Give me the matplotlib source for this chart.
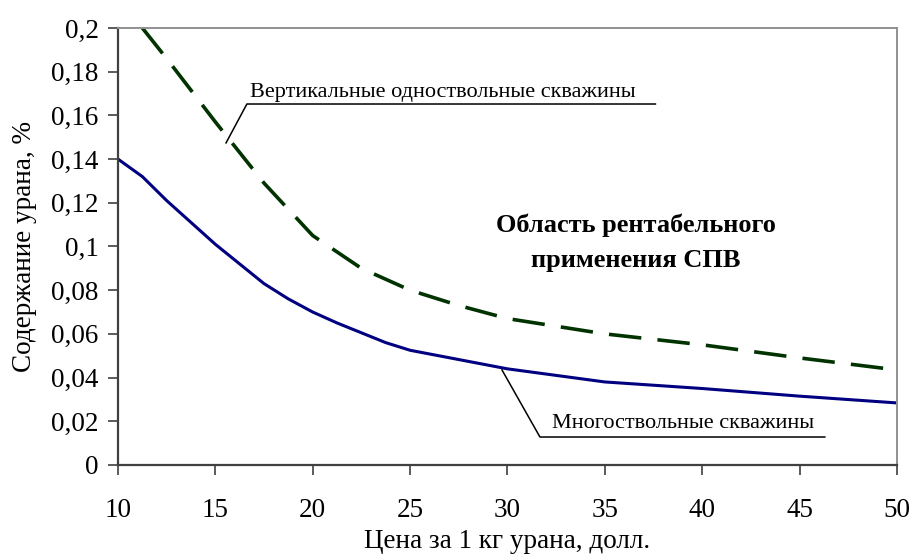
import matplotlib.pyplot as plt
from matplotlib.ticker import FuncFormatter

plt.rcParams["font.family"] = ["Liberation Serif", "DejaVu Serif"]

# данные
price_multi = [10, 11.25, 12.5, 15, 17.5, 18.75, 20, 21.25, 23.75, 25, 30, 35, 40, 45, 50]
grade_multi = [0.14, 0.132, 0.121, 0.101, 0.083, 0.076, 0.070, 0.065, 0.056, 0.0525,
               0.044, 0.038, 0.035, 0.0315, 0.0284]

price_vert = [11.25, 12.5, 15, 17.5, 20, 22.5, 25, 27.5, 30, 35, 40, 45, 50]
grade_vert = [0.2, 0.186, 0.157, 0.129, 0.105, 0.090, 0.080, 0.073, 0.067,
              0.060, 0.055, 0.049, 0.0435]

x_ticks = [10, 15, 20, 25, 30, 35, 40, 45, 50]
y_ticks = [0, 0.02, 0.04, 0.06, 0.08, 0.1, 0.12, 0.14, 0.16, 0.18, 0.2]

fig = plt.figure(figsize=(9.11, 5.56), dpi=100)
ax = fig.add_axes([0.1295, 0.1637, 0.855, 0.786])

ax.plot(price_multi, grade_multi, color="#000080", lw=2.2)
ax.plot(price_vert, grade_vert, color="#003300", lw=2.6, dashes=(9, 4.5), clip_on=False)

ax.set_xlim(10, 50)
ax.set_ylim(0, 0.2)
ax.set_xticks(x_ticks)
ax.set_yticks(y_ticks)
ax.yaxis.set_major_formatter(FuncFormatter(lambda v, p: ("%g" % round(v, 2)).replace(".", ",")))
ax.tick_params(direction="out", length=7, width=1.2, color="#404040", labelsize=19.5)
ax.tick_params(axis="y", pad=7)
ax.tick_params(axis="x", pad=17)

for s in ["left", "bottom"]:
    ax.spines[s].set_color("#404040")
    ax.spines[s].set_linewidth(1.6)
for s in ["top", "right"]:
    ax.spines[s].set_color("#909090")
    ax.spines[s].set_linewidth(1.4)

ax.set_xlabel("Цена за 1 кг урана, долл.", fontsize=19.5, labelpad=4)
ax.set_ylabel("Содержание урана, %", fontsize=19.5, labelpad=10)

# подписи с выносками
ax.plot([15.55, 16.62, 37.6], [0.1474, 0.1652, 0.1652], color="black", lw=1.1)
ax.text(16.78, 0.1684, "Вертикальные одноствольные скважины", fontsize=16,
        ha="left", va="baseline")

ax.plot([29.72, 31.67, 46.3], [0.0435, 0.0128, 0.0128], color="black", lw=1.1)
ax.text(32.28, 0.0169, "Многоствольные скважины", fontsize=16, ha="left", va="baseline")

ax.text(36.6, 0.1066, "Область рентабельного", fontsize=19, fontweight="bold",
        ha="center", va="baseline")
ax.text(36.6, 0.0906, "применения СПВ", fontsize=19, fontweight="bold",
        ha="center", va="baseline")

fig.savefig("out.png", dpi=100)
